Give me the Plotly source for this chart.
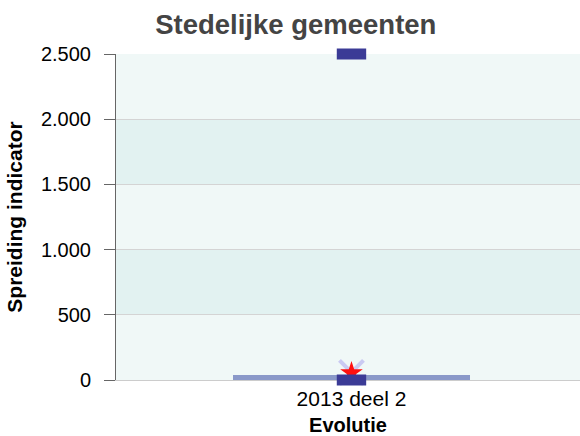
import plotly.graph_objects as go

# Spreiding van de indicator voor stedelijke gemeenten
categories = ["2013 deel 2"]
minimum = [0]
q1 = [0]
q3 = [38]
maximum = [2500]
median = [55]
mean = [58]

y_ticks = [0, 500, 1000, 1500, 2000, 2500]

FONT = "Liberation Sans, Arial, sans-serif"
DARK_BLUE = "#3b3b96"

fig = go.Figure()

# interkwartielbox
fig.add_trace(go.Bar(
    x=categories,
    base=q1,
    y=[b - a for a, b in zip(q1, q3)],
    width=0.51,
    marker=dict(color="#8a99c9", line=dict(width=0)),
    hoverinfo="skip",
    showlegend=False,
))

# gemiddelde (kruis) en mediaan (ster)
fig.add_trace(go.Scatter(
    x=categories, y=mean, mode="markers", cliponaxis=False,
    marker=dict(symbol="x-thin", size=24, line=dict(width=4, color="#cacaf2")),
    showlegend=False,
))
fig.add_trace(go.Scatter(
    x=categories, y=median, mode="markers", cliponaxis=False,
    marker=dict(symbol="star", size=17, color="#ff1010", line=dict(width=0)),
    showlegend=False,
))

# minimum en maximum als blokjes
fig.add_trace(go.Scatter(
    x=categories + categories, y=minimum + maximum, mode="markers", cliponaxis=False,
    marker=dict(symbol="line-ew", size=21, line=dict(width=11, color=DARK_BLUE)),
    showlegend=False,
))

# afwisselende achtergrondbanden
for lo, hi in zip(y_ticks[1::2], y_ticks[2::2]):
    fig.add_shape(type="rect", xref="paper", yref="y", x0=0, x1=1, y0=lo, y1=hi,
                  fillcolor="#e2f2f1", line=dict(width=0), layer="below")

fig.update_layout(
    width=580, height=436,
    margin=dict(l=116, r=0, t=54, b=56),
    paper_bgcolor="white",
    plot_bgcolor="#f0f8f7",
    separators=",.",
    font=dict(family=FONT, color="black"),
    title=dict(text="<b>Stedelijke gemeenten</b>", x=0.51, xanchor="center",
               y=1 - 24 / 436, yanchor="middle", yref="container",
               font=dict(size=27.5, color="#444444", family=FONT)),
    bargap=0,
)

fig.update_xaxes(
    type="category", range=[-0.5075, 0.4925],
    showline=True, linecolor="#cccccc", linewidth=1, layer="below traces",
    ticks="", showgrid=False, zeroline=False,
    tickfont=dict(size=21, color="black"),
    title=dict(text="<b>Evolutie</b>", font=dict(size=20, color="black"), standoff=13),
)
fig.update_yaxes(
    range=[0, 2500], tickvals=y_ticks, tickformat=",d",
    showline=True, linecolor="#666666", linewidth=1, layer="below traces",
    ticks="outside", ticklen=11, tickcolor="#666666", ticklabelstandoff=9,
    showgrid=True, gridcolor="#d4d4d4", gridwidth=1, zeroline=False,
    tickfont=dict(size=20, color="black"),
    title=dict(text="<b>Spreiding indicator</b>", font=dict(size=21, color="black"), standoff=12),
)

fig.write_html("out.html")
